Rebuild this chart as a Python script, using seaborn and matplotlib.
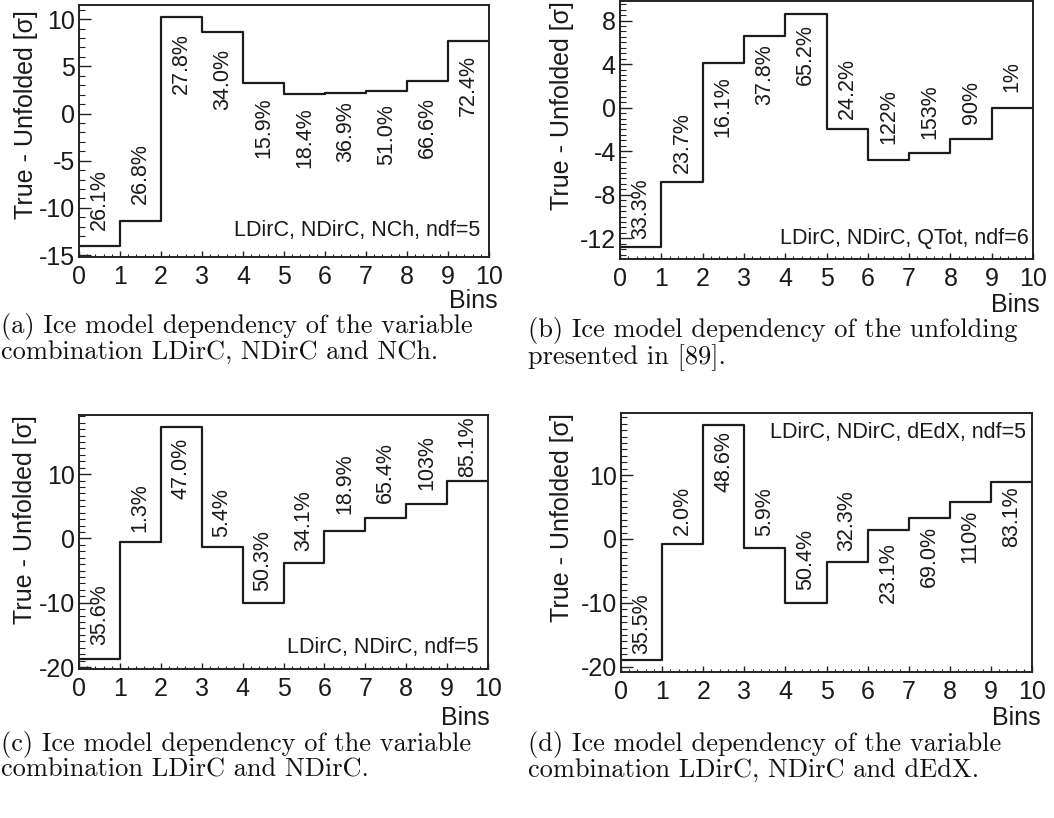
import numpy as np
import pandas as pd
import matplotlib
matplotlib.use("Agg")
import matplotlib.pyplot as plt
import seaborn as sns
from matplotlib.ticker import MultipleLocator

# ---------------- data ----------------
bin_edges = list(range(11))

diff_a = [-14.06, -11.4, 10.2, 8.6, 3.25, 2.08, 2.15, 2.44, 3.5, 7.67]
pct_a = ["26.1%", "26.8%", "27.8%", "34.0%", "15.9%", "18.4%", "36.9%", "51.0%", "66.6%", "72.4%"]
diff_b = [-12.84, -6.8, 4.12, 6.6, 8.6, -1.92, -4.76, -4.12, -2.84, 0.0]
pct_b = ["33.3%", "23.7%", "16.1%", "37.8%", "65.2%", "24.2%", "122%", "153%", "90%", "1%"]
diff_c = [-18.75, -0.52, 17.3, -1.3, -9.97, -3.74, 1.19, 3.12, 5.3, 8.94]
pct_c = ["35.6%", "1.3%", "47.0%", "5.4%", "50.3%", "34.1%", "18.9%", "65.4%", "103%", "85.1%"]
diff_d = [-18.9, -0.78, 17.9, -1.4, -10.0, -3.58, 1.45, 3.27, 5.71, 8.94]
pct_d = ["35.5%", "2.0%", "48.6%", "5.9%", "50.4%", "32.3%", "23.1%", "69.0%", "110%", "83.1%"]

info_a = "LDirC, NDirC, NCh, ndf=5"
info_b = "LDirC, NDirC, QTot, ndf=6"
info_c = "LDirC, NDirC, ndf=5"
info_d = "LDirC, NDirC, dEdX, ndf=5"

cap_a = ["(a) Ice model dependency of the variable", "combination LDirC, NDirC and NCh."]
cap_b = ["(b) Ice model dependency of the unfolding", "presented in [89]."]
cap_c = ["(c) Ice model dependency of the variable", "combination LDirC and NDirC."]
cap_d = ["(d) Ice model dependency of the variable", "combination LDirC, NDirC and dEdX."]

y_title = "True - Unfolded [σ]"
x_title = "Bins"

# ---------------- style ----------------
sns.set_style("ticks")
plt.rcParams["font.family"] = ["Liberation Sans", "DejaVu Sans"]
plt.rcParams["axes.unicode_minus"] = False

W, H = 1054, 818
fig = plt.figure(figsize=(W / 100, H / 100), dpi=100)

def rect(l, r, t, b):
    return [l / W, 1 - b / H, (r - l) / W, (b - t) / H]

# label placement: 'a' = above the step, 'b' = below; gaps in pixels
panels = [
    dict(vals=diff_a, pcts=pct_a, info=info_a, box=rect(79, 489, 5, 257), ylim=(-15.2, 11.5),
         major=5, minor=1, place="aabbbbbbbb",
         gaps=[16, 17, 16, 17, 15, 13, 8, 14, 16, 14],
         info_xy=(0.978, 0.107), ylab=(-0.10, 0.98), xlab=(1.02, -0.125)),
    dict(vals=diff_b, pcts=pct_b, info=info_b, box=rect(620, 1033, 1, 259), ylim=(-13.9, 9.8),
         major=4, minor=0.5, place="aabbbaaaaa",
         gaps=[8, 9, 13, 8, 10, 10, 16, 14, 15, 16],
         info_xy=(0.99, 0.078), ylab=(-0.111, 1.0), xlab=(1.017, -0.132)),
    dict(vals=diff_c, pcts=pct_c, info=info_c, box=rect(79, 488, 415, 669), ylim=(-20.3, 19.2),
         major=10, minor=1, place="aabaaaaaaa",
         gaps=[14, 10, 11, 10, 12, 12, 17, 15, 14, 4],
         info_xy=(0.976, 0.083), ylab=(-0.103, 1.0), xlab=(1.005, -0.146)),
    dict(vals=diff_d, pcts=pct_d, info=info_d, box=rect(621, 1032, 413, 672), ylim=(-20.8, 19.7),
         major=10, minor=1, place="aabaaabbbb",
         gaps=[6, 9, 7, 12, 13, 11, 13, 8, 7, 5],
         info_xy=(0.985, 0.923), ylab=(-0.114, 1.0), xlab=(1.02, -0.131)),
]

line_col = "#1c1c1c"
for p in panels:
    ax = fig.add_axes(p["box"])
    vals = p["vals"]
    df = pd.DataFrame({"edge": bin_edges, "diff": list(vals) + [vals[-1]]})
    sns.lineplot(data=df, x="edge", y="diff", drawstyle="steps-post", color=line_col,
                 linewidth=1.6, ax=ax)
    ax.set_xlim(0, 10)
    ax.set_ylim(*p["ylim"])
    ax.xaxis.set_major_locator(MultipleLocator(1))
    ax.xaxis.set_minor_locator(MultipleLocator(0.2))
    ax.yaxis.set_major_locator(MultipleLocator(p["major"]))
    ax.yaxis.set_minor_locator(MultipleLocator(p["minor"]))
    ax.tick_params(axis="both", which="both", direction="in", top=False, right=False,
                   color="#222222", labelsize=18, labelcolor="#1a1a1a")
    ax.tick_params(axis="x", which="major", length=4.5, width=1.0, pad=6)
    ax.tick_params(axis="x", which="minor", length=2.2, width=0.8)
    ax.tick_params(axis="y", which="major", length=8.5, width=1.0, pad=3)
    ax.tick_params(axis="y", which="minor", length=4.2, width=0.8)
    for s in ax.spines.values():
        s.set_visible(True)
        s.set_linewidth(1.4)
        s.set_color("#222222")

    ax.set_ylabel(y_title, fontsize=18, loc="top", color="#1a1a1a")
    ax.yaxis.set_label_coords(*p["ylab"])
    ax.set_xlabel(x_title, fontsize=18, loc="right", color="#1a1a1a")
    ax.xaxis.set_label_coords(*p["xlab"])

    for i, (v, txt, pl, g) in enumerate(zip(vals, p["pcts"], p["place"], p["gaps"])):
        xc = (bin_edges[i] + bin_edges[i + 1]) / 2
        gpt = g * 0.72
        if pl == "a":
            ax.annotate(txt, (xc, v), xytext=(0, gpt), textcoords="offset points",
                        rotation=90, ha="center", va="bottom", fontsize=15.5, color="#1a1a1a")
        else:
            ax.annotate(txt, (xc, v), xytext=(0, -gpt), textcoords="offset points",
                        rotation=90, ha="center", va="top", fontsize=15.5, color="#1a1a1a")

    ix, iy = p["info_xy"]
    ax.text(ix, iy, p["info"], transform=ax.transAxes, ha="right", va="center",
            fontsize=15.5, color="#1a1a1a")

# ---------------- captions ----------------
def caption(lines, x, ytop):
    fig.text(x / W, 1 - ytop / H, "\n".join(lines), family="cmr10", fontsize=19,
             va="top", ha="left", linespacing=1.0, color="#111111")

caption(cap_a, 1, 313)
caption(cap_b, 528, 317)
caption(cap_c, 1, 731)
caption(cap_d, 528, 731)

fig.savefig("out.png", dpi=100)
